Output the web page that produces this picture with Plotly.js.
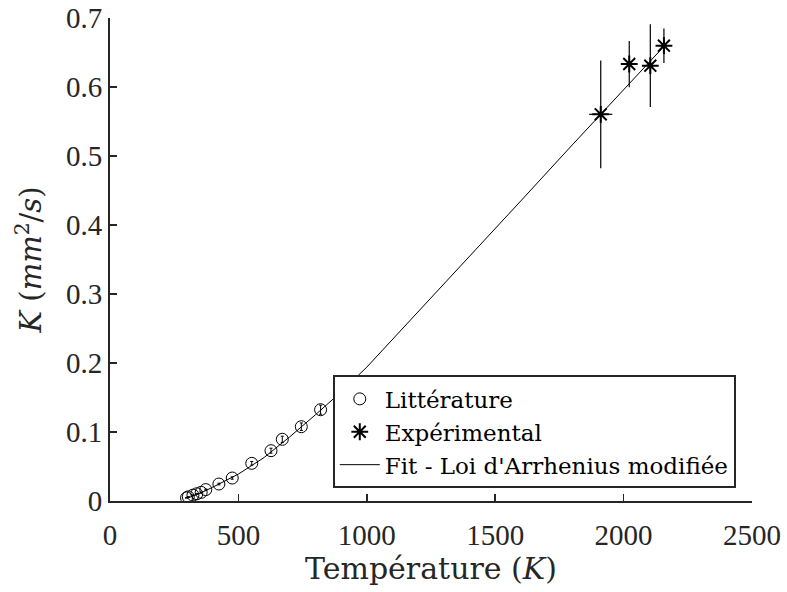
<!DOCTYPE html>
<html><head><meta charset="utf-8">
<script src="https://cdn.plot.ly/plotly-3.0.1.min.js"></script>
<style>html,body{margin:0;padding:0;background:#fff}</style>
</head><body><div id="chart" style="width:787px;height:592px"></div>
<script>
const litT = [298, 305, 323, 338, 355, 373, 424, 476, 552, 627, 671, 745, 820];
const litK = [0.0045, 0.0060, 0.0085, 0.0105, 0.0125, 0.0165, 0.0246, 0.0333, 0.0546, 0.0729, 0.0894, 0.1077, 0.1323];
const litErr = [0.0002, 0.0003, 0.0004, 0.0005, 0.0006, 0.0008, 0.0012, 0.0017, 0.0027, 0.0036, 0.0045, 0.0054, 0.0066];
const expT = [1911, 2022, 2104, 2157];
const expK = [0.5604, 0.6333, 0.6309, 0.6599];
const expErrK = [0.078, 0.0335, 0.060, 0.025];
const expErrT = [45, 0, 0, 0];
const fitT = [300, 350, 400, 450, 500, 600, 700, 800, 900, 1000, 1200, 1400, 1600, 1800, 2000, 2160];
const fitK = [0.004, 0.011, 0.020, 0.029, 0.039, 0.063, 0.093, 0.125, 0.158, 0.194, 0.274, 0.355, 0.435, 0.516, 0.596, 0.660];
const xTicks = [0, 500, 1000, 1500, 2000, 2500];
const yTicks = [0, 0.1, 0.2, 0.3, 0.4, 0.5, 0.6, 0.7];

const serif = "Liberation Serif";
const wide = "DejaVu Serif";
const ink = "#262626";

const traces = [
  {x: fitT, y: fitK, mode: "lines", name: "Fit - Loi d'Arrhenius modifiée",
   line: {color: "#000", width: 1}, legendrank: 3},
  {x: litT, y: litK, mode: "markers", name: "Littérature", legendrank: 1,
   marker: {symbol: "circle-open", size: 12, color: "#000", line: {width: 1, color: "#000"}},
   error_y: {type: "data", array: litErr, color: "#000", thickness: 1, width: 1.5}},
  {x: expT, y: expK, mode: "markers", name: "Expérimental", legendrank: 2,
   marker: {symbol: "asterisk-open", size: 14, color: "#000", line: {width: 2, color: "#000"}},
   error_y: {type: "data", array: expErrK, color: "#000", thickness: 1.2, width: 0},
   error_x: {type: "data", array: expErrT, color: "#000", thickness: 1.2, width: 0}}
];

const layout = {
  width: 787, height: 592,
  margin: {l: 110, r: 35, t: 18, b: 91},
  paper_bgcolor: "#fff", plot_bgcolor: "#fff",
  font: {family: serif, size: 26, color: ink},
  xaxis: {
    range: [0, 2500], tickvals: xTicks, ticktext: xTicks.map(String), automargin: false,
    showgrid: false, zeroline: false, showline: true, linecolor: ink, linewidth: 2,
    ticks: "inside", ticklen: 7, tickwidth: 1.5, tickcolor: ink, ticklabelstandoff: 7,
    tickfont: {family: serif, size: 29, color: ink},
    title: {text: "Température (<i>K</i>)", font: {family: wide, size: 30, color: ink}, standoff: 0}
  },
  yaxis: {
    range: [0, 0.7], tickvals: yTicks, ticktext: yTicks.map(v => v === 0 ? "0" : v.toFixed(1)), automargin: false,
    showgrid: false, zeroline: false, showline: true, linecolor: ink, linewidth: 2,
    ticks: "inside", ticklen: 7, tickwidth: 1.5, tickcolor: ink,
    tickfont: {family: serif, size: 29, color: ink},
    title: {text: "<i>K</i> (<i>mm</i><sup>2</sup>/<i>s</i>)", font: {family: wide, size: 29, color: ink}, standoff: 16}
  },
  legend: {
    x: 0.347, y: 0.26, xanchor: "left", yanchor: "top",
    bgcolor: "#fff", bordercolor: ink, borderwidth: 2,
    font: {family: wide, size: 23, color: "#000"},
    itemwidth: 40,
    tracegroupgap: 0, itemclick: false, traceorder: "normal"
  },
  showlegend: true
};

Plotly.newPlot("chart", traces, layout, {staticPlot: true, displayModeBar: false});
</script>
</body></html>
